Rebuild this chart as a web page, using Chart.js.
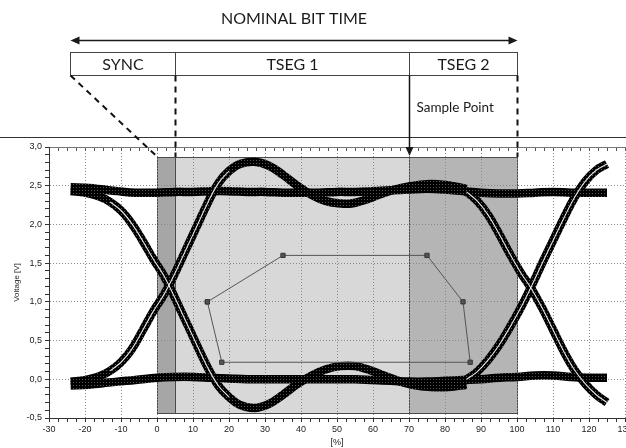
<!DOCTYPE html>
<html><head><meta charset="utf-8">
<script src="https://cdn.jsdelivr.net/npm/chart.js@4/dist/chart.umd.min.js"></script>
<style>html,body{margin:0;padding:0;background:#fff;overflow:hidden}canvas{display:block}</style>
</head><body>
<div style="width:626px;height:448px;position:relative;overflow:hidden"><canvas id="c" width="630" height="448"></canvas></div>
<script>
// ---------- data ----------
const xTickMin = -30, xTickMax = 130, xMinorStep = 2.5, xMajorStep = 10;
const yTickMin = -0.5, yTickMax = 3.0, yMinorStep = 0.1, yMajorStep = 0.5;

const hiFlatX = [-24,-19,-15,-11,-6,0,5,10,15,20,25,30,35,40,45,50,55,60,65,70,75,80,85,90,95,100,105,110,115,120,125];
const hiFlatY = [2.48,2.47,2.45,2.43,2.41,2.41,2.42,2.42,2.43,2.43,2.42,2.42,2.41,2.41,2.41,2.42,2.42,2.43,2.44,2.45,2.46,2.45,2.43,2.41,2.40,2.40,2.41,2.42,2.41,2.41,2.41];

const loFlatX = [-24,-19,-15,-11,-6,0,5,10,15,20,25,30,35,40,45,50,55,60,65,70,75,80,85,90,95,100,105,110,115,120,125];
const loFlatY = [-0.08,-0.07,-0.05,-0.03,-0.01,0.02,0.03,0.03,0.02,0.01,0.0,0.0,0.0,0.0,0.0,0.0,0.0,-0.01,-0.02,-0.03,-0.03,-0.02,-0.01,0.0,0.02,0.03,0.05,0.05,0.03,0.02,0.02];

const riseLeftX = [-24,-20,-16,-13,-10,-7,-4,-1,2,5,8,11,14,17,20,23,27,31,35,39,43,47,51,54,58,62,66,70,75,80,86];
const riseLeftY = [-0.03,-0.01,0.04,0.11,0.22,0.39,0.63,0.88,1.10,1.37,1.67,1.97,2.27,2.53,2.69,2.78,2.81,2.76,2.64,2.50,2.38,2.30,2.27,2.27,2.32,2.39,2.45,2.49,2.52,2.51,2.46];

const fallLeftX = [-24,-20,-16,-13,-10,-7,-4,-1,2,5,8,11,14,17,20,23,27,31,35,39,43,47,51,55,59,63,67,71,76,81,86];
const fallLeftY = [2.43,2.41,2.36,2.29,2.18,2.01,1.79,1.55,1.33,1.05,0.75,0.45,0.16,-0.08,-0.23,-0.33,-0.37,-0.32,-0.20,-0.06,0.05,0.13,0.17,0.17,0.12,0.05,-0.02,-0.07,-0.10,-0.10,-0.07];

const riseRightX = [80,83,86,89,92,95,98,101,104,107,110,113,116,119,122,125];
const riseRightY = [-0.10,-0.07,0.0,0.10,0.25,0.44,0.67,0.92,1.20,1.50,1.79,2.08,2.35,2.56,2.70,2.78];

const fallRightX = [80,83,86,89,92,95,98,101,104,107,110,113,116,119,122,125];
const fallRightY = [2.51,2.48,2.42,2.30,2.12,1.88,1.62,1.38,1.17,0.92,0.64,0.36,0.12,-0.06,-0.20,-0.30];

const maskX = [14,35,75,85,87,18,14];
const maskY = [1.0,1.6,1.6,1.0,0.22,0.22,1.0];

const regionStart = [0,5,70];
const regionEnd = [5,70,100];
const regionTop = 2.87, regionBottom = -0.44;

const segLabels = ['SYNC','TSEG 1','TSEG 2'];
const segBounds = [-24.2,5,70,100];
const diagramTitle = 'NOMINAL BIT TIME';
const sampleLabel = 'Sample Point';
const yTitle = 'Voltage [V]';
const xTitle = '[%]';

// ---------- styles ----------
const REGION_COLORS = ['#a6a6a6','#d8d8d8','#b5b5b5'];
const pts = (xs, ys) => xs.map((x,i)=>({x, y: ys[i]}));
const sub = (xs, ys, a, b) => pts(xs, ys).filter(p => p.x >= a && p.x <= b);

function makePattern(){
  const c = document.createElement('canvas'); c.width = 3; c.height = 3;
  const g = c.getContext('2d');
  g.fillStyle = '#000'; g.fillRect(0,0,3,3);
  g.fillStyle = '#555'; g.fillRect(1,1,1,1);
  return g.createPattern(c, 'repeat');
}
const PAT = makePattern();

const band = (data) => ({data, showLine:true, borderColor:PAT, borderWidth:8.5, pointRadius:0, tension:0.4, borderCapStyle:'butt', order:2});
const core = (data) => ({data, showLine:true, borderColor:'rgba(255,255,255,0.9)', borderWidth:1.1, pointRadius:0, tension:0.4, order:1});

const regionPlugin = {
  id:'regions',
  beforeDraw(chart){
    const {ctx, scales:{x, y}} = chart;
    ctx.save();
    const y0 = Math.round(y.getPixelForValue(regionTop)), y1 = Math.round(y.getPixelForValue(regionBottom));
    for (let i=0;i<regionStart.length;i++){
      const x0 = Math.round(x.getPixelForValue(regionStart[i])), x1 = Math.round(x.getPixelForValue(regionEnd[i]));
      ctx.fillStyle = REGION_COLORS[i];
      ctx.fillRect(x0, y0, x1-x0, y1-y0);
      ctx.strokeStyle = '#4a4a4a'; ctx.lineWidth = 1;
      ctx.strokeRect(x0+0.5, y0+0.5, x1-x0, y1-y0);
    }
    ctx.restore();
  }
};

const diagramPlugin = {
  id:'diagram',
  afterDraw(chart){
    const {ctx, scales:{x, y}} = chart;
    const px = segBounds.map(v => Math.round(x.getPixelForValue(v)) + 0.5);
    const rectTop = Math.round(y.getPixelForValue(regionTop));
    const TITLE_Y = 19, ARROW_Y = 40.5, BOX_T = 52.5, BOX_B = 75.5, SEP_Y = 137.5, SAMPLE_Y = 108;
    ctx.save();
    ctx.fillStyle = '#1a1a1a'; ctx.strokeStyle = '#1a1a1a';
    ctx.textAlign = 'center'; ctx.textBaseline = 'middle';
    ctx.font = '16px Lato';
    ctx.fillText(diagramTitle, (px[0]+px[3])/2, TITLE_Y);
    ctx.lineWidth = 1.5;
    ctx.beginPath(); ctx.moveTo(px[0]+4, ARROW_Y); ctx.lineTo(px[3]-4, ARROW_Y); ctx.stroke();
    ctx.beginPath(); ctx.moveTo(px[0], ARROW_Y); ctx.lineTo(px[0]+9, ARROW_Y-4); ctx.lineTo(px[0]+9, ARROW_Y+4); ctx.closePath(); ctx.fill();
    ctx.beginPath(); ctx.moveTo(px[3], ARROW_Y); ctx.lineTo(px[3]-9, ARROW_Y-4); ctx.lineTo(px[3]-9, ARROW_Y+4); ctx.closePath(); ctx.fill();
    ctx.lineWidth = 1; ctx.strokeStyle = '#444';
    ctx.strokeRect(px[0], BOX_T, px[3]-px[0], BOX_B-BOX_T);
    ctx.beginPath(); ctx.moveTo(px[1], BOX_T); ctx.lineTo(px[1], BOX_B); ctx.moveTo(px[2], BOX_T); ctx.lineTo(px[2], BOX_B); ctx.stroke();
    ctx.font = '16px Lato';
    for (let i=0;i<segLabels.length;i++) ctx.fillText(segLabels[i], (px[i]+px[i+1])/2, (BOX_T+BOX_B)/2 + 1);
    ctx.strokeStyle = '#333'; ctx.lineWidth = 1;
    ctx.beginPath(); ctx.moveTo(0, SEP_Y); ctx.lineTo(chart.width, SEP_Y); ctx.stroke();
    ctx.strokeStyle = '#111'; ctx.lineWidth = 2; ctx.setLineDash([6,5]);
    const x0p = Math.round(x.getPixelForValue(0)) + 0.5;
    ctx.beginPath(); ctx.moveTo(px[0], BOX_B); ctx.lineTo(x0p, rectTop); ctx.stroke();
    ctx.beginPath(); ctx.moveTo(px[1], BOX_B); ctx.lineTo(px[1], rectTop); ctx.stroke();
    ctx.beginPath(); ctx.moveTo(px[3], BOX_B); ctx.lineTo(px[3], rectTop); ctx.stroke();
    ctx.setLineDash([]);
    ctx.lineWidth = 1.5;
    ctx.beginPath(); ctx.moveTo(px[2], BOX_B); ctx.lineTo(px[2], rectTop - 6); ctx.stroke();
    ctx.beginPath(); ctx.moveTo(px[2], rectTop - 1); ctx.lineTo(px[2]-4, rectTop - 10); ctx.lineTo(px[2]+4, rectTop - 10); ctx.closePath(); ctx.fill();
    ctx.font = '13.5px Lato'; ctx.textAlign = 'left';
    ctx.fillText(sampleLabel, px[2] + 7, SAMPLE_Y);
    ctx.restore();
  }
};

const isMajorX = v => Math.abs(v/xMajorStep - Math.round(v/xMajorStep)) < 1e-6;
const isMajorY = v => Math.abs(v/yMajorStep - Math.round(v/yMajorStep)) < 1e-6;
const TICK_FONT = {family:'Liberation Sans', size:9};

new Chart(document.getElementById('c'), {
  type:'scatter',
  data:{datasets:[
    {data: pts(maskX, maskY), showLine:true, borderColor:'#555', borderWidth:1, pointStyle:'rect', pointRadius:3, pointBackgroundColor:'#555', pointBorderColor:'#333', tension:0, order:0},
    core(sub(riseLeftX, riseLeftY, -13, 20)),
    core(sub(fallLeftX, fallLeftY, -13, 20)),
    core(sub(riseRightX, riseRightY, 86, 125)),
    core(sub(fallRightX, fallRightY, 86, 125)),
    band(pts(hiFlatX, hiFlatY)),
    band(pts(loFlatX, loFlatY)),
    band(pts(riseLeftX, riseLeftY)),
    band(pts(fallLeftX, fallLeftY)),
    band(pts(riseRightX, riseRightY)),
    band(pts(fallRightX, fallRightY)),
  ]},
  options:{
    responsive:false, animation:false, devicePixelRatio:1,
    layout:{padding:{top:147, left:0, right:1, bottom:0}},
    plugins:{legend:{display:false}, tooltip:{enabled:false}},
    scales:{
      x:{
        type:'linear', position:'bottom', min:xTickMin, max:xTickMax,
        ticks:{stepSize:xMinorStep, autoSkip:false, maxRotation:0, padding:2, color:'#222', font:TICK_FONT,
          callback: v => isMajorX(v) ? String(Math.round(v)) : ''},
        grid:{color: c => (c.tick && isMajorX(c.tick.value)) ? '#888' : 'rgba(0,0,0,0)', lineWidth:1,
          tickColor:'#333', tickWidth:1, tickLength:4, tickBorderDash:[]},
        border:{display:true, color:'#333', width:1, dash:[1,2]},
        title:{display:true, text:xTitle, color:'#222', font:TICK_FONT, padding:{top:0,bottom:0}},
        afterFit(s){ s.height = 30; s.paddingLeft = 0; s.paddingRight = 0; }
      },
      xt:{
        type:'linear', position:'top', min:xTickMin, max:xTickMax,
        ticks:{display:false, stepSize:xMinorStep, autoSkip:false},
        grid:{drawOnChartArea:false, drawTicks:true, tickLength:-4, tickColor:'#555', color:'#555'},
        border:{display:true, color:'#777', width:1},
        afterFit(s){ s.height = 0; s.paddingLeft = 0; s.paddingRight = 0; }
      },
      y:{
        type:'linear', position:'left', min:yTickMin, max:yTickMax,
        ticks:{stepSize:yMinorStep, autoSkip:false, padding:3, color:'#222', font:TICK_FONT,
          callback: v => isMajorY(v) ? (Math.round(v*10)/10).toFixed(1).replace('.', ',') : ''},
        grid:{color: c => (c.tick && isMajorY(c.tick.value)) ? '#888' : 'rgba(0,0,0,0)', lineWidth:1,
          tickColor:'#333', tickWidth:1, tickLength:4, tickBorderDash:[]},
        border:{display:true, color:'#333', width:1, dash:[1,2]},
        title:{display:true, text:yTitle, color:'#222', font:{family:'Liberation Sans', size:8}, padding:{top:12,bottom:0}},
        afterFit(s){ s.width = 49; s.paddingTop = 0; s.paddingBottom = 0; }
      }
    }
  },
  plugins:[regionPlugin, diagramPlugin]
});
</script>
</body></html>
